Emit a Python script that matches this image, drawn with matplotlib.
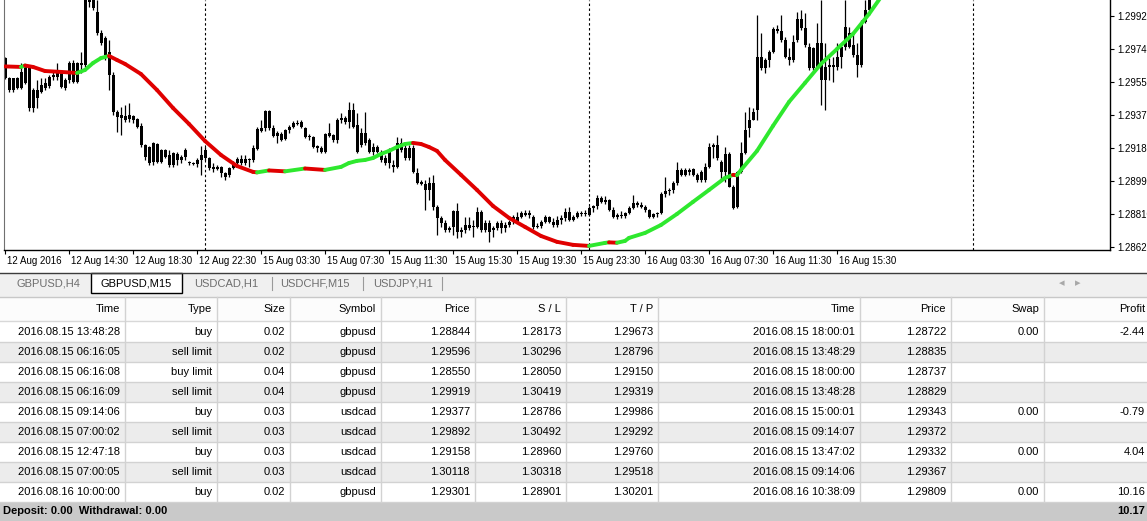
import numpy as np
import matplotlib
matplotlib.use("Agg")
import matplotlib.pyplot as plt
import matplotlib.transforms as mtransforms
from matplotlib.collections import LineCollection
from matplotlib.patches import Rectangle

plt.rcParams['font.family'] = ['Liberation Sans', 'DejaVu Sans']

# GBPUSD M15 bars, 12 Aug 2016 10:30 onwards (bar index = position)
opens = [
    1.29689, 1.29577, 1.29509, 1.29577, 1.29521, 1.29549, 1.29639, 1.29408, 1.29464, 1.29498,
    1.29521, 1.29532, 1.29582, 1.29582, 1.29611, 1.29521, 1.29566, 1.29661, 1.29554, 1.29650,
    1.29650, 1.30044, 1.30016, 1.29948, 1.29830, 1.29802, 1.29723, 1.29594, 1.29385, 1.29352,
    1.29363, 1.29346, 1.29363, 1.29346, 1.29307, 1.29200, 1.29188, 1.29104, 1.29205, 1.29104,
    1.29171, 1.29143, 1.29087, 1.29149, 1.29115, 1.29132, 1.29104, 1.29098, 1.29093, 1.29115,
    1.29126, 1.29126, 1.29076, 1.29065, 1.29076, 1.29042, 1.29031, 1.29070, 1.29098, 1.29121,
    1.29098, 1.29121, 1.29115, 1.29177, 1.29278, 1.29295, 1.29391, 1.29295, 1.29250, 1.29262,
    1.29233, 1.29284, 1.29301, 1.29324, 1.29301, 1.29295, 1.29245, 1.29245, 1.29194, 1.29183,
    1.29160, 1.29250, 1.29256, 1.29228, 1.29340, 1.29352, 1.29329, 1.29397, 1.29312, 1.29200,
    1.29267, 1.29228, 1.29160, 1.29188, 1.29160, 1.29126, 1.29098, 1.29087, 1.29076, 1.29211,
    1.29183, 1.29126, 1.29183, 1.29042, 1.28991, 1.28980, 1.28946, 1.28986, 1.28851, 1.28789,
    1.28761, 1.28721, 1.28738, 1.28828, 1.28710, 1.28721, 1.28749, 1.28738, 1.28738, 1.28822,
    1.28721, 1.28761, 1.28721, 1.28732, 1.28761, 1.28732, 1.28749, 1.28766, 1.28766, 1.28794,
    1.28817, 1.28806, 1.28794, 1.28738, 1.28744, 1.28766, 1.28794, 1.28766, 1.28749, 1.28777,
    1.28789, 1.28822, 1.28777, 1.28794, 1.28817, 1.28811, 1.28806, 1.28845, 1.28856, 1.28901,
    1.28879, 1.28890, 1.28834, 1.28794, 1.28806, 1.28800, 1.28817, 1.28845, 1.28873, 1.28862,
    1.28851, 1.28834, 1.28794, 1.28811, 1.28817, 1.28924, 1.28941, 1.28946, 1.28986, 1.29059,
    1.29031, 1.29059, 1.29065, 1.29031, 1.29003, 1.29003, 1.29076, 1.29188, 1.29200, 1.29104,
    1.29048, 1.29149, 1.28963, 1.28851, 1.29048, 1.29155, 1.29295, 1.29340, 1.29397, 1.29695,
    1.29633, 1.29678, 1.29723, 1.29853, 1.29841, 1.29791, 1.29695, 1.29678, 1.29791, 1.29909,
    1.29858, 1.29751, 1.29633, 1.29639, 1.29774, 1.29566, 1.29639, 1.29650, 1.29639, 1.29695,
    1.29751, 1.29830, 1.29763, 1.29706, 1.29650, 1.29892, 1.29960,
]
highs = [
    1.29695, 1.29582, 1.29577, 1.29582, 1.29661, 1.29650, 1.29644, 1.29521, 1.29566, 1.29577,
    1.29577, 1.29594, 1.29611, 1.29661, 1.29622, 1.29577, 1.29673, 1.29678, 1.29667, 1.29723,
    1.30100, 1.30129, 1.30044, 1.30016, 1.29847, 1.29813, 1.29791, 1.29611, 1.29397, 1.29414,
    1.29425, 1.29436, 1.29369, 1.29352, 1.29324, 1.29205, 1.29194, 1.29217, 1.29211, 1.29177,
    1.29177, 1.29171, 1.29160, 1.29160, 1.29143, 1.29183, 1.29110, 1.29104, 1.29126, 1.29194,
    1.29188, 1.29132, 1.29098, 1.29087, 1.29081, 1.29048, 1.29076, 1.29110, 1.29132, 1.29143,
    1.29143, 1.29126, 1.29200, 1.29301, 1.29340, 1.29397, 1.29397, 1.29312, 1.29278, 1.29273,
    1.29290, 1.29312, 1.29335, 1.29340, 1.29340, 1.29301, 1.29262, 1.29250, 1.29200, 1.29194,
    1.29267, 1.29324, 1.29262, 1.29352, 1.29380, 1.29363, 1.29442, 1.29436, 1.29380, 1.29295,
    1.29385, 1.29239, 1.29211, 1.29200, 1.29171, 1.29143, 1.29183, 1.29115, 1.29245, 1.29239,
    1.29211, 1.29200, 1.29200, 1.29070, 1.29003, 1.29003, 1.29019, 1.29031, 1.28862, 1.28800,
    1.28777, 1.28744, 1.28834, 1.28873, 1.28738, 1.28794, 1.28794, 1.28777, 1.28851, 1.28834,
    1.28777, 1.28777, 1.28744, 1.28772, 1.28777, 1.28766, 1.28777, 1.28806, 1.28822, 1.28828,
    1.28834, 1.28834, 1.28806, 1.28761, 1.28777, 1.28806, 1.28800, 1.28789, 1.28800, 1.28806,
    1.28845, 1.28851, 1.28806, 1.28828, 1.28828, 1.28834, 1.28856, 1.28862, 1.28918, 1.28913,
    1.28913, 1.28896, 1.28851, 1.28817, 1.28828, 1.28822, 1.28856, 1.28918, 1.28884, 1.28879,
    1.28862, 1.28839, 1.28817, 1.28822, 1.28935, 1.29019, 1.28958, 1.28997, 1.29104, 1.29070,
    1.29070, 1.29070, 1.29070, 1.29042, 1.29059, 1.29098, 1.29211, 1.29211, 1.29256, 1.29115,
    1.29188, 1.29160, 1.28974, 1.29053, 1.29217, 1.29385, 1.29414, 1.29408, 1.29932, 1.29830,
    1.29689, 1.29734, 1.29864, 1.29875, 1.29932, 1.29808, 1.29746, 1.29819, 1.29948, 1.29960,
    1.29943, 1.29774, 1.29751, 1.29887, 1.30016, 1.29774, 1.29689, 1.29695, 1.29774, 1.29763,
    1.30016, 1.29864, 1.29830, 1.29774, 1.29903, 1.30016, 1.30044,
]
lows = [
    1.29571, 1.29498, 1.29498, 1.29515, 1.29515, 1.29543, 1.29391, 1.29385, 1.29408, 1.29492,
    1.29509, 1.29521, 1.29566, 1.29566, 1.29521, 1.29509, 1.29549, 1.29549, 1.29549, 1.29605,
    1.29639, 1.29977, 1.29960, 1.29819, 1.29763, 1.29678, 1.29509, 1.29369, 1.29273, 1.29256,
    1.29329, 1.29329, 1.29324, 1.29295, 1.29188, 1.29115, 1.29087, 1.29087, 1.29098, 1.29098,
    1.29126, 1.29076, 1.29076, 1.29087, 1.29098, 1.29115, 1.29087, 1.29087, 1.29076, 1.29031,
    1.29115, 1.29059, 1.29048, 1.29059, 1.29019, 1.29003, 1.29019, 1.29065, 1.29076, 1.29087,
    1.29087, 1.29076, 1.29104, 1.29171, 1.29273, 1.29278, 1.29284, 1.29245, 1.29211, 1.29222,
    1.29228, 1.29267, 1.29295, 1.29312, 1.29295, 1.29239, 1.29228, 1.29183, 1.29160, 1.29155,
    1.29155, 1.29245, 1.29217, 1.29211, 1.29324, 1.29318, 1.29295, 1.29295, 1.29155, 1.29188,
    1.29200, 1.29155, 1.29143, 1.29155, 1.29104, 1.29087, 1.29070, 1.29048, 1.29070, 1.29160,
    1.29115, 1.29115, 1.29042, 1.28980, 1.28974, 1.28834, 1.28890, 1.28834, 1.28693, 1.28738,
    1.28710, 1.28710, 1.28693, 1.28676, 1.28682, 1.28704, 1.28721, 1.28682, 1.28732, 1.28710,
    1.28710, 1.28654, 1.28682, 1.28721, 1.28704, 1.28710, 1.28738, 1.28755, 1.28761, 1.28789,
    1.28800, 1.28789, 1.28727, 1.28732, 1.28732, 1.28761, 1.28761, 1.28738, 1.28738, 1.28755,
    1.28772, 1.28772, 1.28772, 1.28789, 1.28800, 1.28800, 1.28800, 1.28822, 1.28839, 1.28873,
    1.28867, 1.28828, 1.28789, 1.28783, 1.28789, 1.28789, 1.28811, 1.28839, 1.28851, 1.28845,
    1.28822, 1.28789, 1.28789, 1.28794, 1.28811, 1.28907, 1.28918, 1.28929, 1.28974, 1.29025,
    1.29025, 1.29031, 1.29025, 1.28991, 1.28991, 1.28991, 1.29070, 1.29126, 1.29115, 1.29003,
    1.28991, 1.28963, 1.28839, 1.28845, 1.29042, 1.29149, 1.29245, 1.29340, 1.29340, 1.29622,
    1.29605, 1.29639, 1.29718, 1.29830, 1.29780, 1.29689, 1.29650, 1.29667, 1.29780, 1.29847,
    1.29751, 1.29622, 1.29622, 1.29633, 1.29425, 1.29397, 1.29566, 1.29554, 1.29622, 1.29633,
    1.29734, 1.29746, 1.29695, 1.29582, 1.29639, 1.29887, 1.29943,
]
closes = [
    1.29577, 1.29509, 1.29577, 1.29521, 1.29611, 1.29639, 1.29408, 1.29509, 1.29509, 1.29537,
    1.29549, 1.29582, 1.29594, 1.29611, 1.29526, 1.29566, 1.29661, 1.29554, 1.29661, 1.29661,
    1.30044, 1.30005, 1.29971, 1.29830, 1.29774, 1.29706, 1.29594, 1.29385, 1.29357, 1.29369,
    1.29340, 1.29369, 1.29340, 1.29301, 1.29200, 1.29132, 1.29098, 1.29211, 1.29104, 1.29171,
    1.29132, 1.29087, 1.29155, 1.29115, 1.29132, 1.29171, 1.29098, 1.29093, 1.29115, 1.29143,
    1.29171, 1.29070, 1.29065, 1.29076, 1.29042, 1.29019, 1.29070, 1.29098, 1.29121, 1.29098,
    1.29121, 1.29115, 1.29183, 1.29290, 1.29295, 1.29391, 1.29295, 1.29250, 1.29267, 1.29228,
    1.29284, 1.29301, 1.29324, 1.29318, 1.29329, 1.29245, 1.29250, 1.29188, 1.29183, 1.29160,
    1.29262, 1.29267, 1.29228, 1.29340, 1.29352, 1.29329, 1.29397, 1.29301, 1.29160, 1.29267,
    1.29211, 1.29160, 1.29188, 1.29160, 1.29115, 1.29098, 1.29171, 1.29076, 1.29211, 1.29171,
    1.29126, 1.29183, 1.29048, 1.28986, 1.28980, 1.28946, 1.28986, 1.28851, 1.28789, 1.28761,
    1.28721, 1.28732, 1.28828, 1.28710, 1.28721, 1.28749, 1.28732, 1.28744, 1.28822, 1.28721,
    1.28761, 1.28710, 1.28732, 1.28761, 1.28732, 1.28749, 1.28766, 1.28794, 1.28794, 1.28817,
    1.28806, 1.28817, 1.28738, 1.28744, 1.28766, 1.28794, 1.28766, 1.28749, 1.28777, 1.28789,
    1.28822, 1.28777, 1.28794, 1.28817, 1.28811, 1.28817, 1.28845, 1.28856, 1.28901, 1.28879,
    1.28890, 1.28834, 1.28794, 1.28806, 1.28800, 1.28817, 1.28845, 1.28873, 1.28862, 1.28851,
    1.28834, 1.28794, 1.28811, 1.28817, 1.28924, 1.28941, 1.28946, 1.28986, 1.29059, 1.29031,
    1.29059, 1.29048, 1.29031, 1.29003, 1.29048, 1.29076, 1.29188, 1.29200, 1.29126, 1.29048,
    1.29149, 1.28963, 1.28845, 1.29048, 1.29155, 1.29284, 1.29340, 1.29385, 1.29695, 1.29633,
    1.29678, 1.29723, 1.29853, 1.29841, 1.29791, 1.29695, 1.29678, 1.29780, 1.29909, 1.29858,
    1.29763, 1.29633, 1.29746, 1.29774, 1.29566, 1.29639, 1.29650, 1.29639, 1.29695, 1.29751,
    1.29864, 1.29751, 1.29706, 1.29650, 1.29892, 1.29960, 1.30027,
]

# moving average (bar index, value)
ma_bars = [0, 4, 5, 7, 10, 14, 18, 20, 22, 24, 26, 28, 30, 34, 38, 42, 46, 50, 54, 58,
           62, 63, 66, 70, 75, 80, 84, 86, 88, 90, 92, 94, 96, 98, 100, 102, 104, 106, 108, 110,
           114, 118, 122, 126, 130, 134, 138, 142, 146, 150, 151, 153, 155, 156, 160, 164, 168, 172, 176, 180,
           182, 183, 184, 188, 192, 196, 200, 204, 208, 212, 216, 219]
ma_values = [1.29642, 1.29639, 1.29647, 1.29639, 1.29616, 1.29611, 1.29605, 1.29622, 1.29661, 1.29689,
             1.29701, 1.29678, 1.29656, 1.29599, 1.29509, 1.29408, 1.29318, 1.29222, 1.29143, 1.29081,
             1.29048, 1.29045, 1.29056, 1.29051, 1.29067, 1.29059, 1.29076, 1.29098, 1.29110, 1.29115,
             1.29126, 1.29149, 1.29166, 1.29188, 1.29205, 1.29211, 1.29205, 1.29188, 1.29166, 1.29115,
             1.29031, 1.28946, 1.28856, 1.28789, 1.28738, 1.28687, 1.28654, 1.28637, 1.28631, 1.28648,
             1.28651, 1.28649, 1.28659, 1.28676, 1.28704, 1.28749, 1.28811, 1.28879, 1.28946, 1.29014,
             1.29031, 1.29029, 1.29059, 1.29166, 1.29307, 1.29442, 1.29549, 1.29656, 1.29740, 1.29825,
             1.29937, 1.30033]

time_tick_bars = [0, 16, 32, 48, 64, 80, 96, 112, 128, 144, 160, 176, 192, 208]
time_tick_labels = ["12 Aug 2016", "12 Aug 14:30", "12 Aug 18:30", "12 Aug 22:30",
                    "15 Aug 03:30", "15 Aug 07:30", "15 Aug 11:30", "15 Aug 15:30",
                    "15 Aug 19:30", "15 Aug 23:30", "16 Aug 03:30", "16 Aug 07:30",
                    "16 Aug 11:30", "16 Aug 15:30"]
day_sep_bars = [50, 146, 242]
price_ticks = [1.29925, 1.29740, 1.29555, 1.29370, 1.29180, 1.28995, 1.28810, 1.28625]
price_tick_labels = ["1.29925", "1.29740", "1.29555", "1.29370", "1.29180", "1.28995", "1.28810", "1.28625"]

tabs = ["GBPUSD,H4", "GBPUSD,M15", "USDCAD,H1", "USDCHF,M15", "USDJPY,H1"]
active_tab = 1

headers = ["Time", "Type", "Size", "Symbol", "Price", "S / L", "T / P", "Time", "Price", "Swap", "Profit"]
open_times = ["2016.08.15 13:48:28", "2016.08.15 06:16:05", "2016.08.15 06:16:08", "2016.08.15 06:16:09",
              "2016.08.15 09:14:06", "2016.08.15 07:00:02", "2016.08.15 12:47:18", "2016.08.15 07:00:05",
              "2016.08.16 10:00:00"]
types = ["buy", "sell limit", "buy limit", "sell limit", "buy", "sell limit", "buy", "sell limit", "buy"]
sizes = ["0.02", "0.02", "0.04", "0.04", "0.03", "0.03", "0.03", "0.03", "0.02"]
symbols = ["gbpusd", "gbpusd", "gbpusd", "gbpusd", "usdcad", "usdcad", "usdcad", "usdcad", "gbpusd"]
open_prices = ["1.28844", "1.29596", "1.28550", "1.29919", "1.29377", "1.29892", "1.29158", "1.30118", "1.29301"]
stop_losses = ["1.28173", "1.30296", "1.28050", "1.30419", "1.28786", "1.30492", "1.28960", "1.30318", "1.28901"]
take_profits = ["1.29673", "1.28796", "1.29150", "1.29319", "1.29986", "1.29292", "1.29760", "1.29518", "1.30201"]
close_times = ["2016.08.15 18:00:01", "2016.08.15 13:48:29", "2016.08.15 18:00:00", "2016.08.15 13:48:28",
               "2016.08.15 15:00:01", "2016.08.15 09:14:07", "2016.08.15 13:47:02", "2016.08.15 09:14:06",
               "2016.08.16 10:38:09"]
close_prices = ["1.28722", "1.28835", "1.28737", "1.28829", "1.29343", "1.29372", "1.29332", "1.29367", "1.29809"]
swaps = ["0.00", "", "", "", "0.00", "", "0.00", "", "0.00"]
profits = ["-2.44", "", "", "", "-0.79", "", "4.04", "", "10.16"]
footer_left = "Deposit: 0.00  Withdrawal: 0.00"
footer_total = "10.17"

W, H = 1147, 521
fig = plt.figure(figsize=(W / 100, H / 100), dpi=100)
fig.patch.set_facecolor('white')

# pixel-space canvas for the terminal panel
bg = fig.add_axes([0, 0, 1, 1])
bg.set_xlim(0, W)
bg.set_ylim(H, 0)
bg.axis('off')

# ---- price chart ----
ax = fig.add_axes([4 / W, 1 - 250 / H, 1106 / W, 250 / H])
ax.set_facecolor('white')
o = np.array(opens); hi = np.array(highs); lo = np.array(lows); c = np.array(closes)
idx = np.arange(len(o))
ax.vlines(idx, lo, hi, color='black', lw=0.9, zorder=2)
body_lo = np.minimum(o, c)
body_h = np.maximum(np.abs(c - o), 0.00005)
ax.bar(idx, body_h, bottom=body_lo, width=0.75, color='black', lw=0, zorder=2)

pts = np.column_stack([ma_bars, ma_values])
segs = np.stack([pts[:-1], pts[1:]], axis=1)
seg_colors = ['#2ee82e' if b > a else '#e00000' for a, b in zip(ma_values[:-1], ma_values[1:])]
ax.add_collection(LineCollection(segs, colors=seg_colors, linewidths=2.8,
                                 capstyle='round', zorder=3))

for b in day_sep_bars:
    ax.axvline(b, color='black', lw=0.8, ls=(0, (2.2, 2.2)), zorder=1)

ax.set_xlim(-0.25, 276.25)
ax.set_ylim(1.28608, 1.30016)
ax.spines['top'].set_visible(False)
ax.spines['left'].set_color('#707070')
for s in ('right', 'bottom'):
    ax.spines[s].set_color('black')
    ax.spines[s].set_linewidth(1.0)

ax.yaxis.tick_right()
ax.set_yticks(price_ticks)
ax.set_yticklabels(price_tick_labels)
ax.tick_params(axis='y', direction='out', length=3, width=0.8, labelsize=7, pad=2)
ax.set_xticks(time_tick_bars)
ax.set_xticklabels(time_tick_labels)
ax.tick_params(axis='x', direction='out', length=3, width=0.8, labelsize=7, pad=1)
shift = mtransforms.ScaledTranslation(2 / 100, 0, fig.dpi_scale_trans)
for lab in ax.get_xticklabels():
    lab.set_horizontalalignment('left')
    lab.set_transform(lab.get_transform() + shift)

# ---- tab bar ----
bg.add_patch(Rectangle((0, 273), W, 24, fc='#f0f0f0', ec='none'))
bg.plot([0, W], [272.5, 272.5], color='#3c3c3c', lw=1)
tab_centers = [48, 136, 226, 315, 403]
bg.add_patch(Rectangle((91, 272.5), 91, 20, fc='white', ec='black', lw=1))
for i, (t, xc) in enumerate(zip(tabs, tab_centers)):
    bg.text(xc, 283, t, ha='center', va='center', fontsize=8,
            color='black' if i == active_tab else '#6e6e6e')
for xs in [272, 363, 442]:
    bg.plot([xs, xs], [277, 290], color='#9a9a9a', lw=0.8)
bg.text(1062, 283, '\u25c2', ha='center', va='center', fontsize=8, color='#a8a8a8',
        family='DejaVu Sans')
bg.text(1078, 283, '\u25b8', ha='center', va='center', fontsize=8, color='#a8a8a8',
        family='DejaVu Sans')

# ---- trade table ----
col_edges = [125, 217, 290, 381, 475, 566, 658, 860, 951, 1044, 1147]
bg.add_patch(Rectangle((0, 297), W, 24, fc='#fcfcfc', ec='none'))
bg.plot([0, W], [297, 297], color='#c8c8c8', lw=1)
bg.plot([0, W], [321, 321], color='#d8d8d8', lw=1)
for j, hd in enumerate(headers):
    xr = col_edges[j] - 5 if j < len(headers) - 1 else 1145
    bg.text(xr, 309.5, hd, ha='right', va='center', fontsize=8, color='black')

columns = [open_times, types, sizes, symbols, open_prices, stop_losses, take_profits,
           close_times, close_prices, swaps, profits]
row_top = 321.5
row_h = 20.05
for r in range(len(open_times)):
    y0 = row_top + r * row_h
    bg.add_patch(Rectangle((0, y0), W, row_h, fc='white' if r % 2 == 0 else '#ececec', ec='none'))
    bg.plot([0, W], [y0 + row_h, y0 + row_h], color='#d2d2d2', lw=1)
    for j, col in enumerate(columns):
        xr = col_edges[j] - 5 if j < len(columns) - 1 else 1145
        bg.text(xr, y0 + row_h / 2 + 0.5, col[r], ha='right', va='center', fontsize=8, color='black')
table_bottom = row_top + len(open_times) * row_h
for xe in col_edges[:-1]:
    bg.plot([xe, xe], [297, table_bottom], color='#d2d2d2', lw=1)

# footer
bg.add_patch(Rectangle((0, table_bottom), W, H - table_bottom, fc='#c9c9c9', ec='none'))
bg.text(3, (table_bottom + H) / 2, footer_left, ha='left', va='center', fontsize=8,
        fontweight='bold', color='black')
bg.text(1145, (table_bottom + H) / 2, footer_total, ha='right', va='center', fontsize=8,
        fontweight='bold', color='black')

fig.savefig('out.png', dpi=100, facecolor='white')
